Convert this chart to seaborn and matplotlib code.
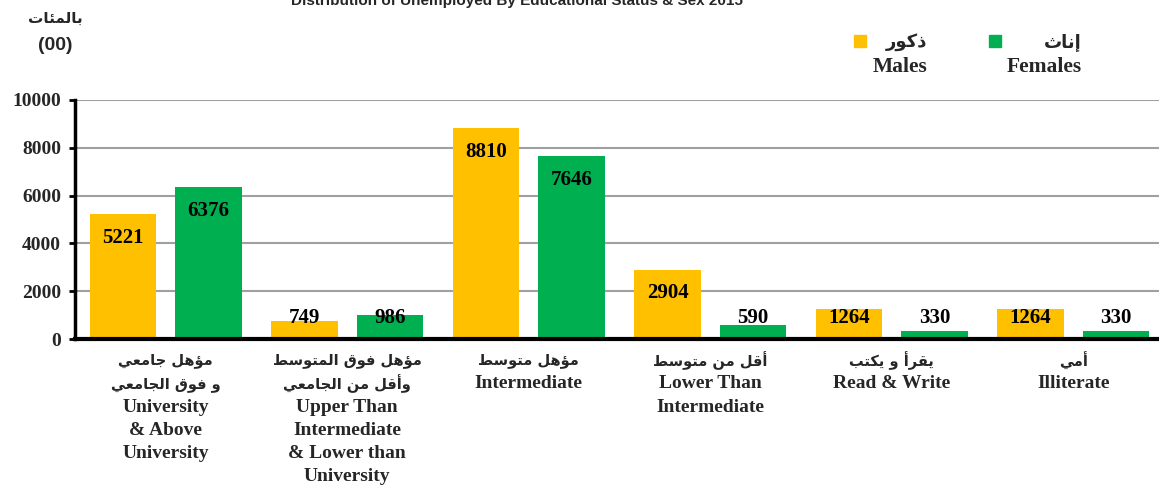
import pandas as pd
import seaborn as sns
import matplotlib.pyplot as plt
from matplotlib.patches import Rectangle

# data (hundreds)
levels_ar = ['مؤهل جامعي\nو فوق الجامعي', 'مؤهل فوق المتوسط\nوأقل من الجامعي', 'مؤهل متوسط',
             'أقل من متوسط', 'يقرأ و يكتب', 'أمي']
levels_en = ['University\n& Above\nUniversity', 'Upper Than\nIntermediate\n& Lower than\nUniversity',
             'Intermediate', 'Lower Than\nIntermediate', 'Read & Write', 'Illiterate']
males = [5221, 749, 8810, 2904, 1264, 1264]
females = [6376, 986, 7646, 590, 330, 330]
yticks = [0, 2000, 4000, 6000, 8000, 10000]

# tiny arabic shaper (no arabic_reshaper available)
FORMS = {
    'ا': ('\uFE8D', '\uFE8E'), 'أ': ('\uFE83', '\uFE84'), 'إ': ('\uFE87', '\uFE88'),
    'ؤ': ('\uFE85', '\uFE86'), 'ذ': ('\uFEAB', '\uFEAC'), 'ر': ('\uFEAD', '\uFEAE'),
    'و': ('\uFEED', '\uFEEE'),
    'ئ': ('\uFE89', '\uFE8A', '\uFE8B', '\uFE8C'), 'ب': ('\uFE8F', '\uFE90', '\uFE91', '\uFE92'),
    'ت': ('\uFE95', '\uFE96', '\uFE97', '\uFE98'), 'ث': ('\uFE99', '\uFE9A', '\uFE9B', '\uFE9C'),
    'ج': ('\uFE9D', '\uFE9E', '\uFE9F', '\uFEA0'), 'س': ('\uFEB1', '\uFEB2', '\uFEB3', '\uFEB4'),
    'ط': ('\uFEC1', '\uFEC2', '\uFEC3', '\uFEC4'), 'ع': ('\uFEC9', '\uFECA', '\uFECB', '\uFECC'),
    'ف': ('\uFED1', '\uFED2', '\uFED3', '\uFED4'), 'ق': ('\uFED5', '\uFED6', '\uFED7', '\uFED8'),
    'ك': ('\uFED9', '\uFEDA', '\uFEDB', '\uFEDC'), 'ل': ('\uFEDD', '\uFEDE', '\uFEDF', '\uFEE0'),
    'م': ('\uFEE1', '\uFEE2', '\uFEE3', '\uFEE4'), 'ن': ('\uFEE5', '\uFEE6', '\uFEE7', '\uFEE8'),
    'ه': ('\uFEE9', '\uFEEA', '\uFEEB', '\uFEEC'), 'ي': ('\uFEF1', '\uFEF2', '\uFEF3', '\uFEF4'),
}
LAM_ALEF = {'ا': ('\uFEFB', '\uFEFC'), 'أ': ('\uFEF7', '\uFEF8'), 'إ': ('\uFEF9', '\uFEFA')}


def dual(c):
    return c in FORMS and len(FORMS[c]) == 4


def shape_line(text):
    out = []
    i, n = 0, len(text)
    while i < n:
        c = text[i]
        if c not in FORMS:
            out.append(c)
            i += 1
            continue
        join_prev = i > 0 and dual(text[i - 1])
        if c == 'ل' and i + 1 < n and text[i + 1] in LAM_ALEF:
            out.append(LAM_ALEF[text[i + 1]][1 if join_prev else 0])
            i += 2
            continue
        join_next = dual(c) and i + 1 < n and text[i + 1] in FORMS
        f = FORMS[c]
        if join_prev and join_next:
            out.append(f[3])
        elif join_prev:
            out.append(f[1])
        elif join_next:
            out.append(f[2])
        else:
            out.append(f[0])
        i += 1
    return ''.join(reversed(out))


def ar(text):
    return '\n'.join(shape_line(t) for t in text.split('\n'))


df = pd.DataFrame({
    'level': list(range(6)) * 2,
    'value': males + females,
    'sex': ['Males'] * 6 + ['Females'] * 6,
})

sns.set_style('white')
plt.rcParams['font.family'] = ['Liberation Serif', 'DejaVu Sans']
plt.rcParams['font.weight'] = 'bold'

colors = {'Males': '#FFC000', 'Females': '#00B050'}

fig = plt.figure(figsize=(11.59, 4.87), dpi=100)
ax = fig.add_axes([75 / 1159, 1 - 339 / 487, (1164 - 75) / 1159, 239 / 487])
sns.barplot(data=df, x='level', y='value', hue='sex', palette=colors, width=0.94, gap=0.22,
            saturation=1, linewidth=0, legend=False, ax=ax, order=list(range(6)))

ax.set_xlim(-0.5, 5.5)
ax.set_ylim(0, 10000)
ax.set_yticks(yticks)
ax.set_yticklabels([str(t) for t in yticks], fontsize=14, fontweight='bold')
ax.yaxis.grid(True, color='#A0A0A0', linewidth=1.5)
ax.set_axisbelow(True)
ax.set_xlabel('')
ax.set_ylabel('')

ax.set_xticks(range(6))
ax.set_xticklabels([''] * 6)
ax.set_xticks([i - 0.5 for i in range(7)], minor=True)
ax.tick_params(axis='x', which='major', length=0)
ax.tick_params(axis='x', which='minor', length=4, width=2, direction='out', color='black')
ax.tick_params(axis='y', length=4, width=2, direction='out', color='black', pad=6, left=True)

# category labels: arabic lines then english lines, one line every 23 px
step = 23 / 239
for i, (a, e) in enumerate(zip(levels_ar, levels_en)):
    k = 0
    for line in a.split('\n'):
        ax.text(i, -22 / 239 - k * step, shape_line(line), transform=ax.get_xaxis_transform(),
                ha='center', va='center', fontsize=10.5, fontweight='bold', family=['DejaVu Sans'])
        k += 1
    for line in e.split('\n'):
        ax.text(i, -22 / 239 - k * step, line, transform=ax.get_xaxis_transform(),
                ha='center', va='center', fontsize=14, fontweight='bold')
        k += 1

for side in ['top', 'right']:
    ax.spines[side].set_visible(False)
ax.spines['left'].set_linewidth(2.5)
ax.spines['bottom'].set_linewidth(3)
ax.spines['left'].set_color('black')
ax.spines['bottom'].set_color('black')

# value labels inside top of bars
for cont in ax.containers:
    for bar in cont:
        v = bar.get_height()
        ax.text(bar.get_x() + bar.get_width() / 2, max(v - 1000, 880), f'{int(v)}',
                ha='center', va='center', fontsize=15, fontweight='bold', color='black')

# unit label
fig.text(55 / 1159, 1 - 18 / 487, ar('بالمئات'), ha='center', va='center', fontsize=11,
         fontweight='bold', family=['DejaVu Sans'])
fig.text(55 / 1159, 1 - 46 / 487, '(00)', ha='center', va='center', fontsize=14,
         fontweight='bold', family=['Liberation Sans'])

# title (cut at top, as in the source)
fig.text(517 / 1159, 1 - 5 / 487, 'Distribution of Unemployed By Educational Status & Sex 2015',
         ha='center', va='baseline', fontsize=11, fontweight='bold', family=['Liberation Sans'])

# legend
for name, ar_name, sq_x, txt_x in [('Males', 'ذكور', 854, 927), ('Females', 'إناث', 989, 1082)]:
    fig.patches.append(Rectangle((sq_x / 1159, 1 - 47 / 487), 12 / 1159, 12 / 487,
                                 transform=fig.transFigure, color=colors[name]))
    fig.text(txt_x / 1159, 1 - 42 / 487, ar(ar_name), ha='right', va='center', fontsize=13,
             fontweight='bold', family=['DejaVu Sans'])
    fig.text(txt_x / 1159, 1 - 67 / 487, name, ha='right', va='center', fontsize=15.5,
             fontweight='bold')

fig.savefig('out.png', dpi=100)
